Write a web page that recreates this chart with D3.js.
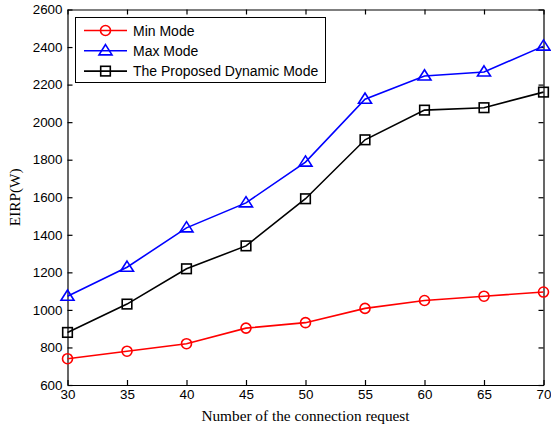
<!DOCTYPE html>
<html><head><meta charset="utf-8">
<script src="https://cdn.jsdelivr.net/npm/d3@7/dist/d3.min.js"></script>
<style>body{margin:0;background:#fff}svg{display:block}</style>
</head><body>
<script>
const xValues = [30, 35, 40, 45, 50, 55, 60, 65, 70];
const minMode = [740, 780, 820, 903, 932, 1008, 1050, 1073, 1095];
const maxMode = [1073, 1227, 1437, 1570, 1787, 2122, 2246, 2267, 2405];
const dynamicMode = [880, 1031, 1219, 1341, 1592, 1906, 2064, 2077, 2160];
const xTicks = [30, 35, 40, 45, 50, 55, 60, 65, 70];
const yTicks = [600, 800, 1000, 1200, 1400, 1600, 1800, 2000, 2200, 2400, 2600];
const seriesNames = ["Min Mode", "Max Mode", "The Proposed Dynamic Mode"];

const W = 551, H = 431;
const m = {l: 67.5, r: 551 - 543.5, t: 9.5, b: 431 - 385};
const svg = d3.select("body").append("svg").attr("width", W).attr("height", H);
const x = d3.scaleLinear().domain([30, 70]).range([m.l, W - m.r]);
const y = d3.scaleLinear().domain([600, 2600]).range([H - m.b, m.t]);

const font = "'Liberation Sans', Arial, sans-serif";
const serif = "'Liberation Serif', 'Times New Roman', serif";
const fmt = d3.format("d");

// axes
const gx = svg.append("g").attr("transform", `translate(0,${y(600)})`)
  .call(d3.axisBottom(x).tickValues(xTicks).tickFormat(fmt).tickSizeInner(-5).tickSizeOuter(0).tickPadding(4.5));
const gxt = svg.append("g").attr("transform", `translate(0,${y(2600)})`)
  .call(d3.axisTop(x).tickValues(xTicks).tickSizeInner(-5).tickSizeOuter(0).tickFormat(""));
const gy = svg.append("g").attr("transform", `translate(${x(30)},0)`)
  .call(d3.axisLeft(y).tickValues(yTicks).tickFormat(fmt).tickSizeInner(-5).tickSizeOuter(0).tickPadding(5));
const gyr = svg.append("g").attr("transform", `translate(${x(70)},0)`)
  .call(d3.axisRight(y).tickValues(yTicks).tickSizeInner(-5).tickSizeOuter(0).tickFormat(""));
[gx, gxt, gy, gyr].forEach(g => {
  g.attr("font-family", font).attr("font-size", 13.4);
  g.selectAll("path,line").attr("stroke", "#000").attr("stroke-width", 1.2);
  g.selectAll("text").attr("fill", "#000");
});

svg.append("text").attr("x", (x(30) + x(70)) / 2).attr("y", 421).attr("text-anchor", "middle")
  .attr("font-family", serif).attr("font-size", 15.3).text("Number of the connection request");
svg.append("text").attr("transform", `translate(20,${(y(600) + y(2600)) / 2}) rotate(-90)`)
  .attr("text-anchor", "middle").attr("font-family", serif).attr("font-size", 15.3).text("EIRP(W)");

const series = [
  {name: seriesNames[0], values: minMode, color: "#ff0000", marker: "circle"},
  {name: seriesNames[1], values: maxMode, color: "#0000ff", marker: "triangle"},
  {name: seriesNames[2], values: dynamicMode, color: "#000000", marker: "square"}
];

function drawMarker(g, type, cx, cy, color) {
  if (type === "circle") {
    g.append("circle").attr("cx", cx).attr("cy", cy).attr("r", 5)
      .attr("fill", "none").attr("stroke", color).attr("stroke-width", 1.6);
  } else if (type === "triangle") {
    const s = 6.2;
    g.append("path").attr("d", `M${cx},${cy - s}L${cx + s * 1.05},${cy + s * 0.65}L${cx - s * 1.05},${cy + s * 0.65}Z`)
      .attr("fill", "none").attr("stroke", color).attr("stroke-width", 1.6);
  } else {
    const s = 4.8;
    g.append("rect").attr("x", cx - s).attr("y", cy - s).attr("width", 2 * s).attr("height", 2 * s)
      .attr("fill", "none").attr("stroke", color).attr("stroke-width", 1.6);
  }
}

const line = d3.line().x((d, i) => x(xValues[i])).y(d => y(d));
series.forEach(s => {
  const g = svg.append("g");
  g.append("path").datum(s.values).attr("d", line).attr("fill", "none")
    .attr("stroke", s.color).attr("stroke-width", 1.6);
  s.values.forEach((v, i) => drawMarker(g, s.marker, x(xValues[i]), y(v), s.color));
});

// legend
const lg = svg.append("g");
lg.append("rect").attr("x", 75.5).attr("y", 17.5).attr("width", 250).attr("height", 65)
  .attr("fill", "#fff").attr("stroke", "#000").attr("stroke-width", 1);
series.forEach((s, i) => {
  const yy = 30.5 + i * 20.3;
  lg.append("line").attr("x1", 84).attr("x2", 127).attr("y1", yy).attr("y2", yy)
    .attr("stroke", s.color).attr("stroke-width", 1.6);
  drawMarker(lg, s.marker, 105.5, yy, s.color);
  lg.append("text").attr("x", 133).attr("y", yy + 5).attr("font-family", font)
    .attr("font-size", 14).text(s.name);
});
</script>
</body></html>
